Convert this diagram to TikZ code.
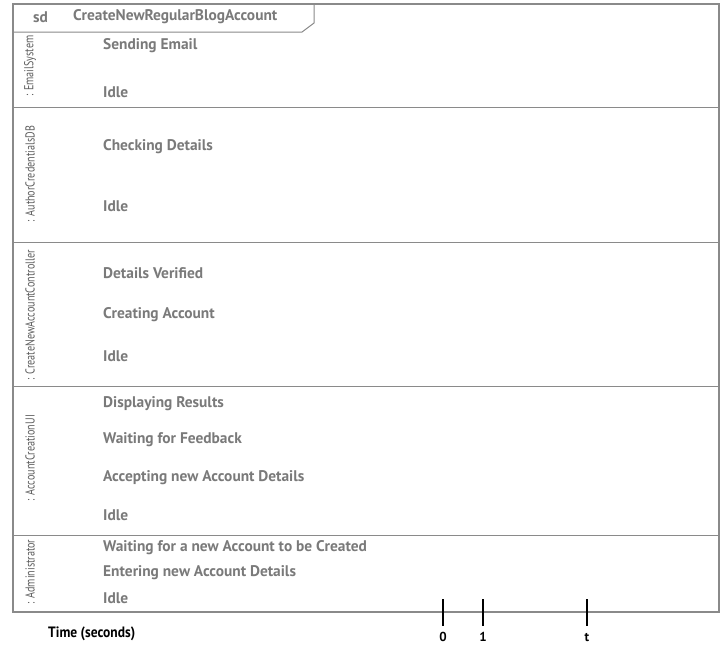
\documentclass[tikz,border=0pt]{standalone}
\usepackage{fontspec}
\setmainfont{PT Sans}
\usepackage{graphicx}
\definecolor{framegray}{HTML}{8A8A8A}
\definecolor{textgray}{HTML}{7A7A7A}
\definecolor{lanegray}{HTML}{5E5E5E}
\tikzset{
  frameline/.style={draw=framegray, line width=1.3pt},
  divider/.style={draw=framegray, line width=1pt},
  statelabel/.style={anchor=west, inner sep=0pt, text=textgray, font=\fontsize{15.4}{17}\selectfont\bfseries},
  lanelabel/.style={rotate=90, inner sep=0pt, text=lanegray, font=\fontsize{13}{15}\selectfont},
  tick/.style={draw=black, line width=1.8pt},
  ticklabel/.style={inner sep=0pt, text=black, font=\fontsize{13}{15}\selectfont\bfseries},
}
\newcommand{\cond}[1]{\scalebox{0.78}[1]{#1}}
\begin{document}
\begin{tikzpicture}[x=1pt,y=-1pt]
\useasboundingbox (0,0) rectangle (728,645);
\fill[white] (0,0) rectangle (728,645);
% frame
\coordinate (TL) at (13,4);
\coordinate (TR) at (719,4);
\coordinate (BR) at (719,612);
\coordinate (BL) at (13,612);
\draw[frameline] (TL) -- (TR) -- (BR) -- (BL) -- cycle;
% title tab
\draw[divider] (314,4) -- (314,23) -- (302,32) -- (13,32);
\node[anchor=west, inner sep=0pt, text=textgray, font=\fontsize{15.4}{17}\selectfont\bfseries] (sd) at (33,17) {sd};
\node[anchor=west, inner sep=0pt, text=textgray, font=\fontsize{15.4}{17}\selectfont\bfseries] (title) at (73,17) {CreateNewRegularBlogAccount};
% lane dividers
\draw[divider] (13,107) -- (719,107);
\draw[divider] (13,242) -- (719,242);
\draw[divider] (13,386) -- (719,386);
\draw[divider] (13,535) -- (719,535);
% lane labels
\node[lanelabel] (l1) at (30,66) {\cond{: EmailSystem}};
\node[lanelabel] (l2) at (30,174) {\cond{: AuthorCredentialsDB}};
\node[lanelabel] (l3) at (30,315) {\cond{: CreateNewAccountController}};
\node[lanelabel] (l4) at (30,458) {\cond{: AccountCreationUI}};
\node[lanelabel] (l5) at (30,572) {\cond{: Administrator}};
% states
\node[statelabel] (s11) at (103,46) {Sending Email};
\node[statelabel] (s12) at (103,92) {Idle};
\node[statelabel] (s21) at (103,147) {Checking Details};
\node[statelabel] (s22) at (103,206) {Idle};
\node[statelabel] (s31) at (103,273) {Details Verified};
\node[statelabel] (s32) at (103,315) {Creating Account};
\node[statelabel] (s33) at (103,356) {Idle};
\node[statelabel] (s41) at (103,404) {Displaying Results};
\node[statelabel] (s42) at (103,440) {Waiting for Feedback};
\node[statelabel] (s43) at (103,478) {Accepting new Account Details};
\node[statelabel] (s44) at (103,515) {Idle};
\node[statelabel] (s51) at (103,548) {Waiting for a new Account to be Created};
\node[statelabel] (s52) at (103,573) {Entering new Account Details};
\node[statelabel] (s53) at (103,598) {Idle};
% time axis
\node[anchor=west, inner sep=0pt, text=black, font=\fontsize{15}{17}\selectfont\bfseries] (time) at (48,634) {\scalebox{0.9}[1]{Time (seconds)}};
\coordinate (t0a) at (443,599); \coordinate (t0b) at (443,626);
\coordinate (t1a) at (483,599); \coordinate (t1b) at (483,626);
\coordinate (tta) at (587,599); \coordinate (ttb) at (587,626);
\draw[tick] (t0a) -- (t0b);
\draw[tick] (t1a) -- (t1b);
\draw[tick] (tta) -- (ttb);
\node[ticklabel] (lab0) at (443,637) {0};
\node[ticklabel] (lab1) at (483,637) {1};
\node[ticklabel] (labt) at (587,637) {t};
\end{tikzpicture}
\end{document}
